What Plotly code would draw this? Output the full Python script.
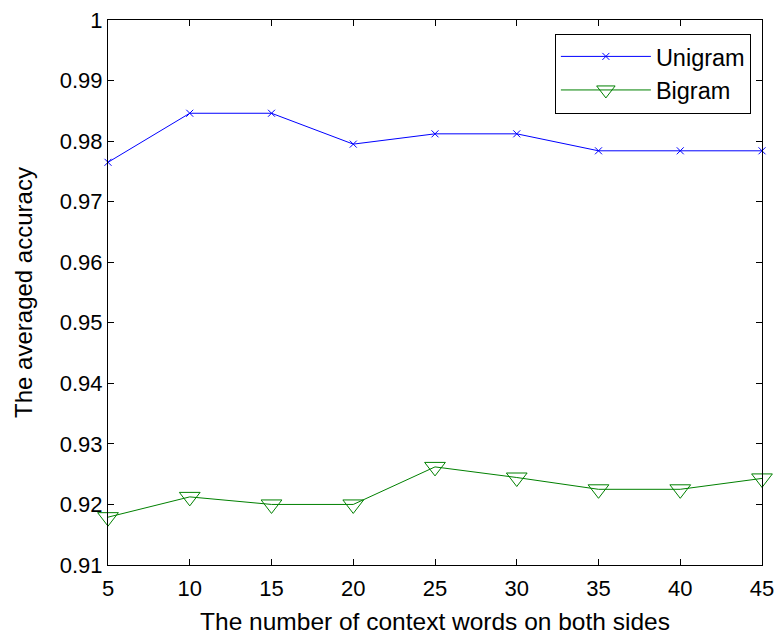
import plotly.graph_objects as go

context_words = [5, 10, 15, 20, 25, 30, 35, 40, 45]
unigram = [0.9765, 0.9846, 0.9846, 0.9795, 0.9812, 0.9812, 0.9784, 0.9784, 0.9784]
bigram = [0.9179, 0.92125, 0.9200, 0.9200, 0.9262, 0.92445, 0.9225, 0.9225, 0.9243]

y_tickvals = [0.91, 0.92, 0.93, 0.94, 0.95, 0.96, 0.97, 0.98, 0.99, 1.0]
y_ticktext = ["0.91", "0.92", "0.93", "0.94", "0.95", "0.96", "0.97", "0.98", "0.99", "1"]
x_tickvals = [5, 10, 15, 20, 25, 30, 35, 40, 45]

FONT = "Liberation Sans, Arial, Helvetica, sans-serif"

fig = go.Figure()
fig.add_trace(go.Scatter(
    x=context_words, y=unigram, name="Unigram", mode="lines+markers",
    line=dict(color="#0000ff", width=1),
    marker=dict(symbol="x-thin-open", size=7, color="#0000ff",
                line=dict(color="#0000ff", width=1)),
    cliponaxis=False,
))
fig.add_trace(go.Scatter(
    x=context_words, y=bigram, name="Bigram", mode="lines+markers",
    line=dict(color="#008000", width=1),
    marker=dict(symbol="triangle-down-open", size=18, color="#008000",
                line=dict(color="#008000", width=1)),
    cliponaxis=False,
))

fig.update_layout(
    width=782, height=637,
    margin=dict(l=108, r=20, t=20, b=72, autoexpand=False),
    paper_bgcolor="white", plot_bgcolor="white",
    font=dict(family=FONT, size=22, color="black"),
    showlegend=True,
    legend=dict(
        x=0.983, y=0.975, xanchor="right", yanchor="top",
        bordercolor="black", borderwidth=1, bgcolor="white",
        font=dict(family=FONT, size=23.5, color="black"),
        itemwidth=90,
    ),
    xaxis=dict(
        range=[5, 45], tickvals=x_tickvals,
        showline=True, linecolor="black", linewidth=1, mirror="ticks",
        ticks="inside", ticklen=6, tickcolor="black",
        showgrid=False, zeroline=False, automargin=False,
        tickfont=dict(family=FONT, size=22),
        ticklabelstandoff=4, ticklabeloverflow="allow",
        title=dict(text="The number of context words on both sides",
                   font=dict(family=FONT, size=24.5), standoff=12),
    ),
    yaxis=dict(
        range=[0.91, 1.0], tickvals=y_tickvals, ticktext=y_ticktext,
        showline=True, linecolor="black", linewidth=1, mirror="ticks",
        ticks="inside", ticklen=6, tickcolor="black",
        showgrid=False, zeroline=False, automargin=False,
        tickfont=dict(family=FONT, size=22), ticklabeloverflow="allow",
        title=dict(text="The averaged accuracy",
                   font=dict(family=FONT, size=24), standoff=20),
    ),
)

fig.write_html("out.html", config={"displayModeBar": False},
               post_script="document.body.style.margin='0';")
